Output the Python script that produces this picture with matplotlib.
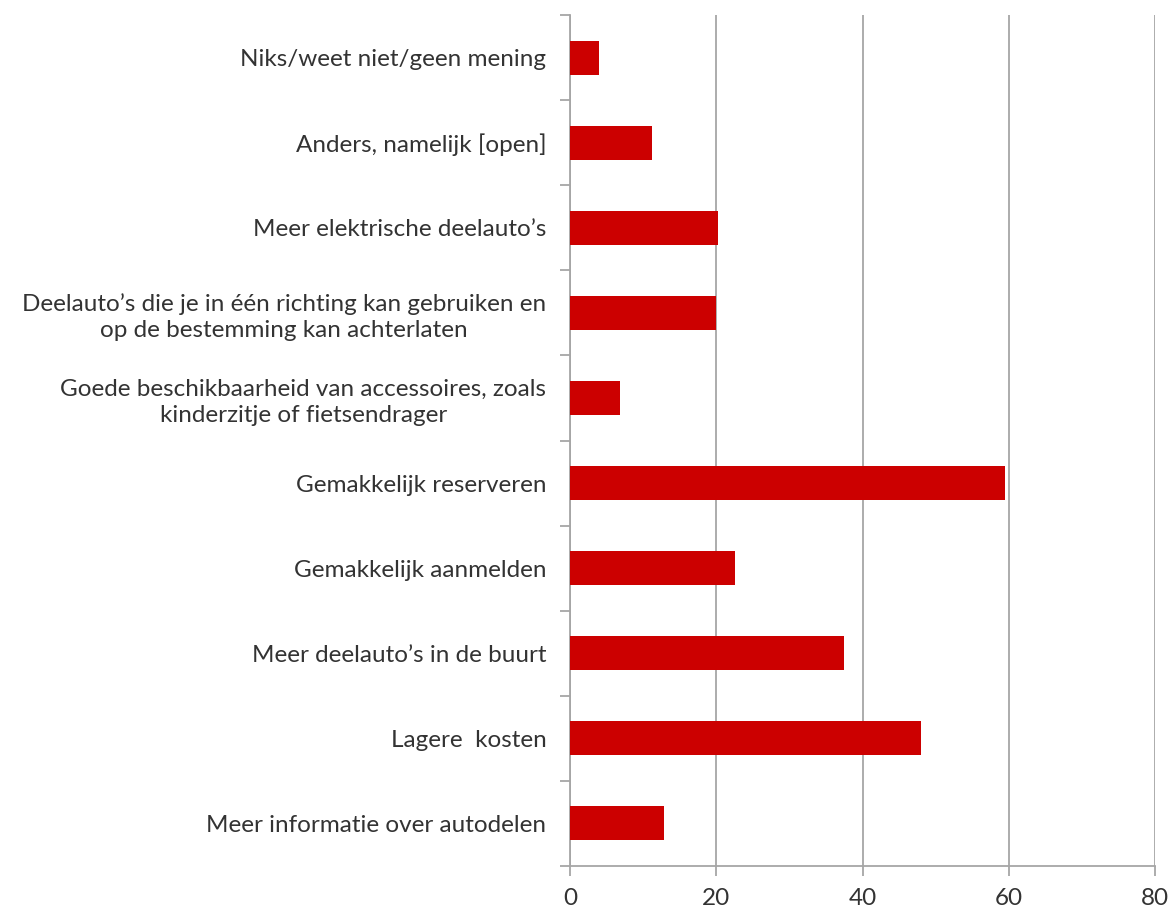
import matplotlib.pyplot as plt
import numpy as np

plt.rcParams['font.family'] = ['Lato', 'DejaVu Sans']

# categories from bottom to top
categories = [
    "Meer informatie over autodelen",
    "Lagere  kosten",
    "Meer deelauto\u2019s in de buurt",
    "Gemakkelijk aanmelden",
    "Gemakkelijk reserveren",
    "Goede beschikbaarheid van accessoires, zoals\nkinderzitje of fietsendrager",
    "Deelauto\u2019s die je in \u00e9\u00e9n richting kan gebruiken en\nop de bestemming kan achterlaten",
    "Meer elektrische deelauto\u2019s",
    "Anders, namelijk [open]",
    "Niks/weet niet/geen mening",
]
values = [12.9, 48.0, 37.4, 22.5, 59.5, 6.9, 20.0, 20.2, 11.2, 3.9]
xticks = [0, 20, 40, 60, 80]

grey = '#a6a6a6'
text_col = '#333333'

fig = plt.figure(figsize=(11.74, 9.14), dpi=100)
ax = fig.add_axes([0.4855, 0.0525, 0.4985, 0.931])

y = np.arange(len(categories))
ax.barh(y, values, height=0.4, color='#cc0000', zorder=3)

ax.set_xlim(0, 80)
ax.set_ylim(-0.5, len(categories) - 0.5)
ax.set_xticks(xticks)
ax.set_xticklabels([str(t) for t in xticks])
ax.grid(axis='x', color=grey, linewidth=1.3, zorder=0)

# y ticks between categories, labels at centers
ax.set_yticks(np.arange(-0.5, len(categories), 1.0))
ax.set_yticklabels([])
ax.set_yticks(y, minor=True)
ax.set_yticklabels(categories, minor=True, ha='right', multialignment='center',
                   linespacing=1.3)
ax.tick_params(axis='y', which='minor', length=0, pad=17, labelsize=17.5, labelcolor=text_col)
ax.tick_params(axis='y', which='major', length=7, color=grey, width=1.3)
ax.tick_params(axis='x', length=7, color=grey, width=1.3, labelsize=17.5,
               labelcolor=text_col, pad=9)

for side in ['top', 'right']:
    ax.spines[side].set_visible(False)
for side in ['left', 'bottom']:
    ax.spines[side].set_color(grey)
    ax.spines[side].set_linewidth(1.3)

fig.savefig('out.png', dpi=100)
